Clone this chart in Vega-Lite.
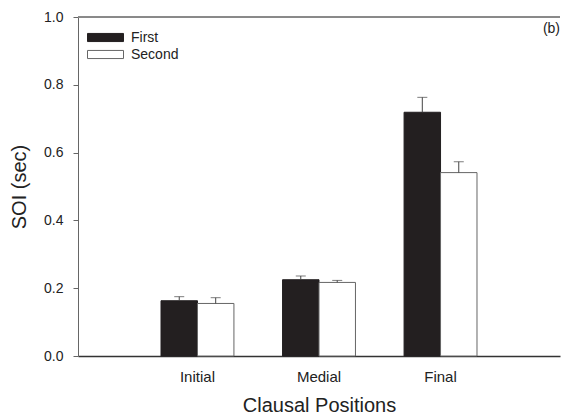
{
  "$schema": "https://vega.github.io/schema/vega-lite/v6.json",
  "width": 482,
  "height": 339,
  "autosize": {"type": "none"},
  "padding": {"left": 78, "top": 17, "right": 1, "bottom": 59},
  "background": "white",
  "config": {
    "view": {"stroke": null},
    "font": "Liberation Sans",
    "axis": {"labelFont": "Liberation Sans", "titleFont": "Liberation Sans", "titleFontWeight": "normal", "labelColor": "#222", "titleColor": "#222", "grid": false}
  },
  "title": {"text": "(b)", "anchor": "end", "orient": "top", "frame": "group", "offset": -26, "fontSize": 14, "fontWeight": "normal", "color": "#222", "font": "Liberation Sans"},
  "data": {
    "values": [
      {"pos": "Initial", "series": "First", "v": 0.163, "hi": 0.175},
      {"pos": "Initial", "series": "Second", "v": 0.155, "hi": 0.172},
      {"pos": "Medial", "series": "First", "v": 0.225, "hi": 0.236},
      {"pos": "Medial", "series": "Second", "v": 0.217, "hi": 0.223},
      {"pos": "Final", "series": "First", "v": 0.719, "hi": 0.763},
      {"pos": "Final", "series": "Second", "v": 0.541, "hi": 0.573}
    ]
  },
  "encoding": {
    "x": {
      "field": "pos", "type": "nominal", "sort": ["Initial", "Medial", "Final"],
      "scale": {"paddingInner": 0.4, "paddingOuter": 0.683},
      "axis": {"title": "Clausal Positions", "labelAngle": 0, "ticks": false, "labelPadding": 13, "labelFontSize": 15, "titleFontSize": 20, "titlePadding": 11, "domainColor": "#333", "domainWidth": 1.5}
    },
    "xOffset": {"field": "series", "type": "nominal", "sort": ["First", "Second"], "scale": {"paddingInner": 0, "paddingOuter": 0}}
  },
  "layer": [
    {
      "mark": {"type": "rule", "color": "#888", "strokeWidth": 1},
      "encoding": {"x": null, "xOffset": null, "y": {"datum": 1, "type": "quantitative"}}
    },
    {
      "mark": {"type": "bar", "strokeWidth": 1},
      "encoding": {
        "y": {
          "field": "v", "type": "quantitative",
          "scale": {"domain": [0, 1], "nice": false},
          "axis": {
            "title": "SOI (sec)",
            "values": [0, 0.1, 0.2, 0.3, 0.4, 0.5, 0.6, 0.7, 0.8, 0.9, 1.0],
            "labelExpr": "round(datum.value*10) % 2 == 1 ? '' : format(datum.value, '.1f')",
            "tickSize": {"condition": {"test": "round(datum.value*10) % 2 == 1", "value": -4}, "value": 5},
            "tickColor": "#666",
            "domainColor": "#666",
            "labelFontSize": 14,
            "labelPadding": 10,
            "titleFontSize": 20,
            "titlePadding": 14
          }
        },
        "fill": {
          "field": "series", "type": "nominal",
          "scale": {"domain": ["First", "Second"], "range": ["#231f20", "#ffffff"]},
          "legend": {
            "title": null, "orient": "none", "legendX": 18, "legendY": 11,
            "symbolType": "M-2,-0.45H2V0.45H-2Z", "symbolSize": 324,
            "symbolStrokeColor": "#231f20", "symbolStrokeWidth": 1,
            "labelFontSize": 14, "labelColor": "#222", "labelOffset": 16, "rowPadding": -1,
            "labelFont": "Liberation Sans"
          }
        },
        "stroke": {
          "field": "series", "type": "nominal",
          "scale": {"domain": ["First", "Second"], "range": ["#231f20", "#666666"]},
          "legend": null
        }
      }
    },
    {
      "mark": {"type": "rule", "color": "#444", "strokeWidth": 1},
      "encoding": {"y": {"field": "v", "type": "quantitative"}, "y2": {"field": "hi"}}
    },
    {
      "mark": {"type": "tick", "color": "#444", "thickness": 1, "size": 10},
      "encoding": {"y": {"field": "hi", "type": "quantitative"}}
    }
  ]
}
